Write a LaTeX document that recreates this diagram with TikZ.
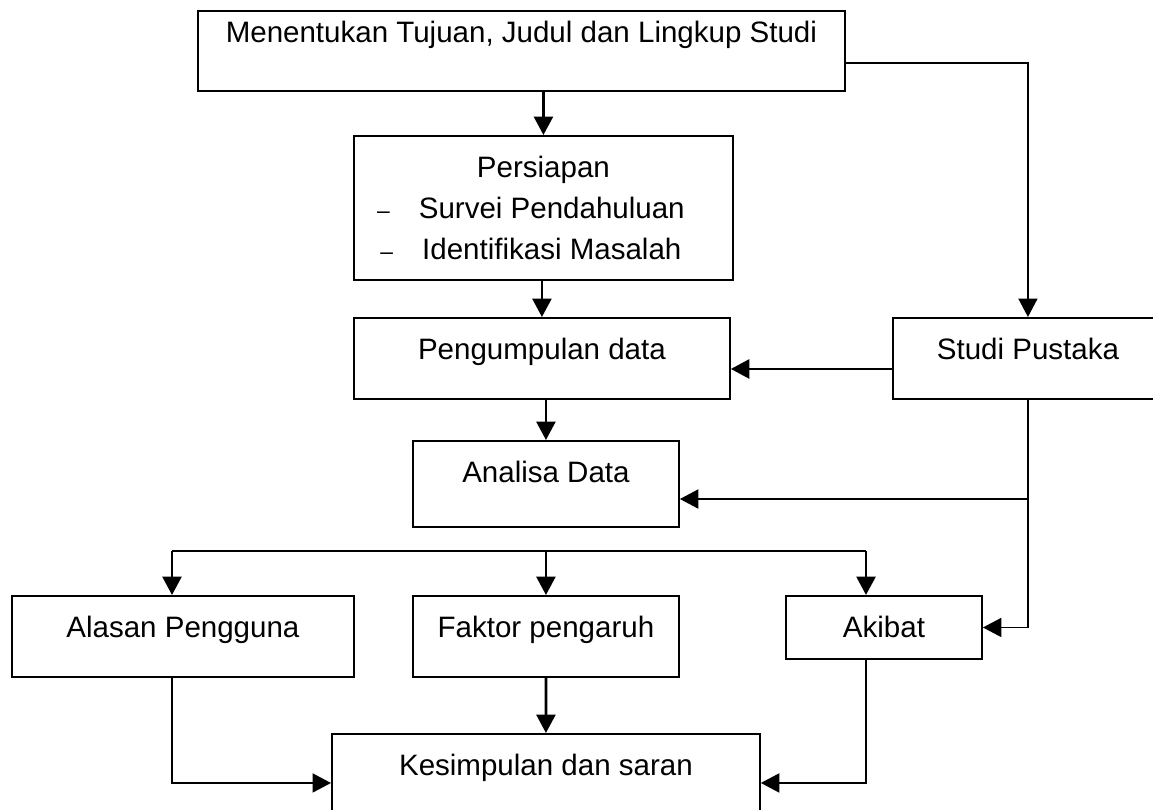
\documentclass[tikz,border=0pt]{standalone}
\usepackage{fontspec}
\setmainfont{Liberation Sans}
\usetikzlibrary{arrows.meta}

\tikzset{
  kotak/.style={draw, line width=1.1pt, inner sep=0pt, anchor=north west},
  blok/.style={kotak, text height=0.84cm},
  panah/.style={-{Triangle[length=0.37cm,width=0.38cm]}, line width=1.6pt},
  garis/.style={line width=1.2pt}
}
\newcommand{\strip}{{\fontsize{13pt}{13pt}\selectfont --}\hspace{0.58cm}}

\begin{document}
\begin{tikzpicture}[x=0.02cm, y=-0.02cm, font=\fontsize{16.8pt}{23.5pt}\selectfont]
				\useasboundingbox (0,0) rectangle (1153,809);
				\clip (0,0) rectangle (1153,809);
				\node[blok, minimum width=12.94cm, text height=0.64cm, text depth=0.96cm] (tujuan) at (197,10) {Menentukan Tujuan, Judul dan Lingkup Studi};
				\node[kotak, minimum width=7.58cm, minimum height=2.88cm, align=center] (persiapan) at (353,135) {Persiapan\\ \strip Survei Pendahuluan\makebox[0.5cm]{}\\ \strip Identifikasi Masalah\makebox[0.5cm]{}};
				\node[blok, minimum width=7.52cm, text depth=0.78cm] (pengumpulan) at (353,317) {Pengumpulan data\hspace{0.6cm}};
				\node[blok, minimum width=5.4cm, text depth=0.78cm] (pustaka) at (892,317) {Studi Pustaka};
				\node[blok, minimum width=5.32cm, text depth=0.88cm] (analisa) at (412,440) {Analisa Data};
				\node[blok, minimum width=6.84cm, text depth=0.78cm] (alasan) at (11,595) {Alasan Pengguna};
				\node[blok, minimum width=5.32cm, text depth=0.78cm] (faktor) at (412,595) {Faktor pengaruh};
				\node[blok, minimum width=3.92cm, text depth=0.42cm] (akibat) at (785,595) {Akibat};
				\node[blok, minimum width=8.56cm, text depth=1.12cm] (kesimpulan) at (331,733) {Kesimpulan dan saran};
				\coordinate (belok) at (1027,63);
				\coordinate (cabang) at (1027,499);
				\coordinate (bagiKiri) at (172,551);
				\coordinate (bagiKanan) at (866,551);
				\draw[panah] (tujuan.south -| persiapan.north) -- (persiapan.north);
				\draw[panah, line width=1.1pt] (tujuan.east |- belok) -| (pustaka.north);
				\draw[panah] (persiapan.south -| pengumpulan.north) -- (pengumpulan.north);
				\draw[panah] ([yshift=-0.21cm]pustaka.west) -- ([yshift=-0.21cm]pengumpulan.east);
				\draw[panah] (pengumpulan.south -| analisa.north) -- (analisa.north);
				\draw[panah, line width=1.1pt] (pustaka.south) |- (akibat.east);
				\draw[panah, line width=1.2pt] (cabang) -- (cabang -| analisa.east);
				\draw[garis] (bagiKiri) -- (bagiKanan);
				\draw[panah] (bagiKiri) -- (bagiKiri |- alasan.north);
				\draw[panah] (bagiKiri -| faktor.north) -- (faktor.north);
				\draw[panah] (bagiKanan) -- (bagiKanan |- akibat.north);
				\draw[panah, line width=1.2pt] (bagiKiri |- alasan.south) |- (kesimpulan.west);
				\draw[panah] (faktor.south) -- (kesimpulan.north);
				\draw[panah, line width=1.2pt] (bagiKanan |- akibat.south) |- (kesimpulan.east);
		\end{tikzpicture}
\end{document}
